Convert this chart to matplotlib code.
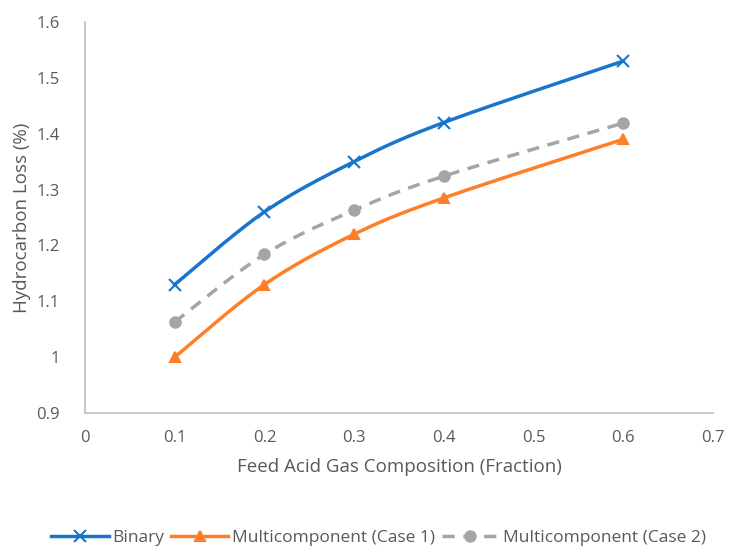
import numpy as np
import matplotlib.pyplot as plt

# feed acid gas composition vs hydrocarbon loss
x = [0.1, 0.2, 0.3, 0.4, 0.6]
binary = [1.13, 1.26, 1.35, 1.42, 1.53]
multi_case1 = [1.00, 1.13, 1.22, 1.285, 1.39]
multi_case2 = [1.063, 1.184, 1.263, 1.324, 1.419]

xticks = [0, 0.1, 0.2, 0.3, 0.4, 0.5, 0.6, 0.7]
yticks = [0.9, 1.0, 1.1, 1.2, 1.3, 1.4, 1.5, 1.6]
ytick_labels = ['0.9', '1', '1.1', '1.2', '1.3', '1.4', '1.5', '1.6']
xtick_labels = ['0', '0.1', '0.2', '0.3', '0.4', '0.5', '0.6', '0.7']

TEXT = '#595959'
plt.rcParams['font.family'] = ['Open Sans', 'DejaVu Sans']


def smooth(xs, ys, n=40):
    # Catmull-Rom style smoothing (like spreadsheet "smoothed line")
    xs = np.asarray(xs, float)
    ys = np.asarray(ys, float)
    px = np.concatenate([[xs[0]], xs, [xs[-1]]])
    py = np.concatenate([[ys[0]], ys, [ys[-1]]])
    out_x, out_y = [], []
    t = np.linspace(0, 1, n)
    for i in range(1, len(px) - 2):
        p0x, p1x, p2x, p3x = px[i - 1:i + 3]
        p0y, p1y, p2y, p3y = py[i - 1:i + 3]
        c1x = p1x + (p2x - p0x) / 6
        c1y = p1y + (p2y - p0y) / 6
        c2x = p2x - (p3x - p1x) / 6
        c2y = p2y - (p3y - p1y) / 6
        bx = (1 - t)**3 * p1x + 3 * (1 - t)**2 * t * c1x + 3 * (1 - t) * t**2 * c2x + t**3 * p2x
        by = (1 - t)**3 * p1y + 3 * (1 - t)**2 * t * c1y + 3 * (1 - t) * t**2 * c2y + t**3 * p2y
        out_x.extend(bx)
        out_y.extend(by)
    return np.array(out_x), np.array(out_y)


fig = plt.figure(figsize=(7.35, 5.49), dpi=100)
ax = fig.add_axes([0.1156, 0.2477, 0.8544, 0.7123])

series = [
    (binary, '#1874CD', 'x', '-', 'Binary', 8),
    (multi_case1, '#FF7F27', '^', '-', 'Multicomponent (Case 1)', 7.5),
    (multi_case2, '#A5A5A5', 'o', (0, (3.5, 2.5)), 'Multicomponent (Case 2)', 7.5),
]
handles = []
for ys, col, mk, ls, lab, ms in series:
    sx, sy = smooth(x, ys)
    ax.plot(sx, sy, color=col, lw=2.5, ls=ls, zorder=2)
    ax.plot(x, ys, ls='none', marker=mk, color=col, ms=ms,
            mew=1.5, zorder=3)
    h, = ax.plot([], [], color=col, lw=2.5, ls=ls, marker=mk, ms=ms, mew=1.5,
                 label=lab)
    handles.append(h)

ax.set_xlim(0, 0.7)
ax.set_ylim(0.9, 1.6)
ax.set_xticks(xticks)
ax.set_xticklabels(xtick_labels)
ax.set_yticks(yticks)
ax.set_yticklabels(ytick_labels)
ax.tick_params(length=0, labelsize=12, colors=TEXT)
ax.tick_params(axis='y', pad=18)
ax.tick_params(axis='x', pad=12)
for s in ['top', 'right']:
    ax.spines[s].set_visible(False)
for s in ['left', 'bottom']:
    ax.spines[s].set_color('#BFBFBF')
    ax.spines[s].set_linewidth(1.2)

ax.set_xlabel('Feed Acid Gas Composition (Fraction)', fontsize=13.5,
              color=TEXT, labelpad=9)
ax.set_ylabel('Hydrocarbon Loss (%)', fontsize=13.5, color=TEXT, labelpad=4)

fig.legend(handles=handles, loc='center', bbox_to_anchor=(0.515, 0.02),
           ncol=3, frameon=False, fontsize=12.5, labelcolor=TEXT,
           handlelength=3.3, handletextpad=0.2, columnspacing=0.4)

fig.savefig('out.png', dpi=100)
